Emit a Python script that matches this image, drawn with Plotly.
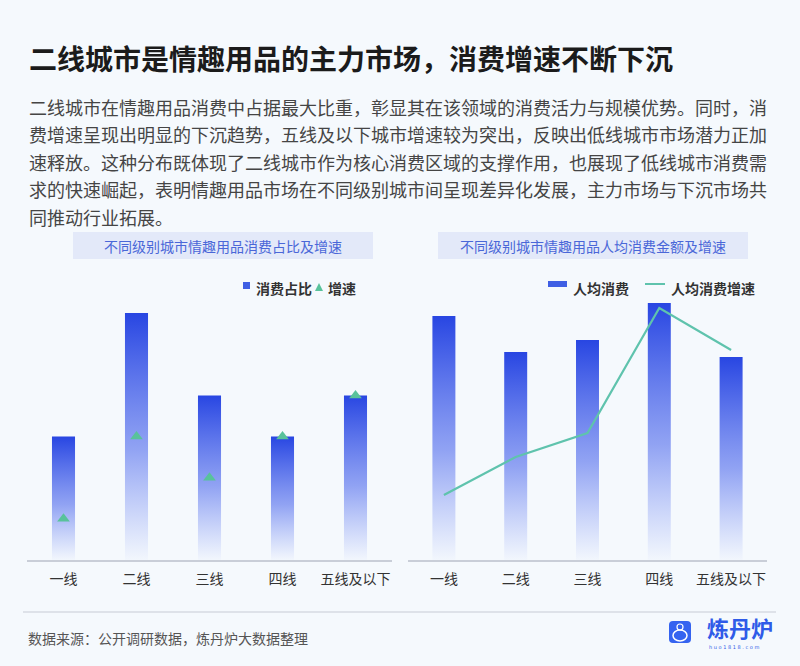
import plotly.graph_objects as go

W, H = 800, 666

# ---------------- data ----------------
cities = ["一线", "二线", "三线", "四线", "五线及以下"]
share = [15, 30, 20, 15, 20]                 # 消费占比 (%)
share_growth = [5, 15, 10, 15, 20]           # 增速 (%)
per_capita = [244, 208, 220, 257, 203]       # 人均消费 (estimated)
per_capita_growth = [6.5, 10.3, 12.7, 25.2, 21.0]  # 人均消费增速 (estimated)

title = "二线城市是情趣用品的主力市场，消费增速不断下沉"
para_lines = [
    "二线城市在情趣用品消费中占据最大比重，彰显其在该领域的消费活力与规模优势。同时，消",
    "费增速呈现出明显的下沉趋势，五线及以下城市增速较为突出，反映出低线城市市场潜力正加",
    "速释放。这种分布既体现了二线城市作为核心消费区域的支撑作用，也展现了低线城市消费需",
    "求的快速崛起，表明情趣用品市场在不同级别城市间呈现差异化发展，主力市场与下沉市场共",
    "同推动行业拓展。",
]
left_title = "不同级别城市情趣用品消费占比及增速"
right_title = "不同级别城市情趣用品人均消费金额及增速"
source = "数据来源：公开调研数据，炼丹炉大数据整理"

FONT = "Noto Sans CJK SC"


def px(x):
    return x / W


def py(y):
    return 1 - y / H


fig = go.Figure()

bar_cs = [[0, "rgba(90,118,242,0.02)"], [0.45, "rgba(72,100,236,0.58)"], [1, "rgba(40,70,226,1)"]]


def add_bars(xa, ya, values, half):
    for i, v in enumerate(values):
        fig.add_trace(go.Scatter(
            x=[i - half, i + half, i + half, i - half, i - half],
            y=[0, 0, v, v, 0],
            xaxis=xa, yaxis=ya, mode="lines", line=dict(width=0),
            fill="toself",
            fillgradient=dict(type="vertical", colorscale=bar_cs),
            showlegend=False, hoverinfo="skip"))


add_bars("x", "y", share, 0.158)
fig.add_trace(go.Scatter(
    x=list(range(len(cities))), y=share_growth, xaxis="x", yaxis="y",
    mode="markers", marker=dict(symbol="triangle-up", size=11, color="#58c29b"),
    showlegend=False, hoverinfo="skip"))

add_bars("x2", "y2", per_capita, 0.16)
fig.add_trace(go.Scatter(
    x=list(range(len(cities))), y=per_capita_growth, xaxis="x2", yaxis="y3",
    mode="lines", line=dict(color="#5fc3ad", width=2.2),
    showlegend=False, hoverinfo="skip"))

ydom = [(H - 560) / H, (H - 296) / H]
xcommon = dict(range=[-0.5, len(cities) - 0.5], tickvals=list(range(len(cities))), ticktext=cities,
               showgrid=False, zeroline=False, showline=True, linecolor="#c9ced8", linewidth=1.5,
               ticks="outside", ticklen=5, tickcolor="rgba(0,0,0,0)",
               tickfont=dict(family=FONT, size=14, color="#333333"), fixedrange=True)

fig.update_layout(
    width=W, height=H, margin=dict(l=0, r=0, t=0, b=0),
    paper_bgcolor="#f5f9fd", plot_bgcolor="rgba(0,0,0,0)",
    showlegend=False,
    xaxis=dict(domain=[px(27), px(392)], anchor="y", **xcommon),
    yaxis=dict(domain=ydom, range=[0, 32.08], visible=False, anchor="x"),
    xaxis2=dict(domain=[px(408), px(767)], anchor="y2", **xcommon),
    yaxis2=dict(domain=ydom, range=[0, 264], visible=False, anchor="x2"),
    yaxis3=dict(overlaying="y2", range=[0, 26.4], visible=False, anchor="x2"),
)

shapes = []
ann = []

# title
ann.append(dict(x=px(27), y=py(58), xref="paper", yref="paper", xanchor="left", yanchor="middle",
                text="<b>" + title + "</b>", showarrow=False,
                font=dict(family=FONT, size=28, color="#1b1b1b")))

# paragraph
for k, line in enumerate(para_lines):
    ann.append(dict(x=px(27), y=py(107 + 27.5 * k), xref="paper", yref="paper",
                    xanchor="left", yanchor="middle", text=line, showarrow=False,
                    font=dict(family=FONT, size=18, color="#454545")))

# chart title boxes
for (x0, x1, t) in [(73, 373, left_title), (438, 748, right_title)]:
    shapes.append(dict(type="rect", xref="paper", yref="paper", x0=px(x0), x1=px(x1),
                       y0=py(259), y1=py(232), fillcolor="#e3e9f9", line=dict(width=0), layer="below"))
    ann.append(dict(x=px((x0 + x1) / 2), y=py(245.5), xref="paper", yref="paper",
                    xanchor="center", yanchor="middle", text=t, showarrow=False,
                    font=dict(family=FONT, size=14, color="#4a67d8")))

# left legend
shapes.append(dict(type="rect", xref="paper", yref="paper", x0=px(243), x1=px(250),
                   y0=py(289), y1=py(282), fillcolor="#3f5fe4", line=dict(width=0)))
ann.append(dict(x=px(254), y=py(287.5), xref="paper", yref="paper", xanchor="left", yanchor="middle",
                text="<b>消费占比</b>", showarrow=False, font=dict(family=FONT, size=14, color="#333333")))
shapes.append(dict(type="path", xref="paper", yref="paper",
                   path=f"M {px(315)} {py(291)} L {px(323)} {py(291)} L {px(319)} {py(283)} Z",
                   fillcolor="#58c29b", line=dict(width=0)))
ann.append(dict(x=px(326), y=py(287.5), xref="paper", yref="paper", xanchor="left", yanchor="middle",
                text="<b>增速</b>", showarrow=False, font=dict(family=FONT, size=14, color="#333333")))

# right legend
shapes.append(dict(type="rect", xref="paper", yref="paper", x0=px(548), x1=px(567),
                   y0=py(287), y1=py(281), fillcolor="#3f5fe4", line=dict(width=0)))
ann.append(dict(x=px(571), y=py(287.5), xref="paper", yref="paper", xanchor="left", yanchor="middle",
                text="<b>人均消费</b>", showarrow=False, font=dict(family=FONT, size=14, color="#333333")))
shapes.append(dict(type="line", xref="paper", yref="paper", x0=px(645), x1=px(665),
                   y0=py(284), y1=py(284), line=dict(color="#5fc3ad", width=2)))
ann.append(dict(x=px(669), y=py(287.5), xref="paper", yref="paper", xanchor="left", yanchor="middle",
                text="<b>人均消费增速</b>", showarrow=False, font=dict(family=FONT, size=14, color="#333333")))

# bottom separator
shapes.append(dict(type="line", xref="paper", yref="paper", x0=px(23), x1=px(776),
                   y0=py(612), y1=py(612), line=dict(color="#d6dae2", width=1.5)))

# source
ann.append(dict(x=px(26), y=py(638), xref="paper", yref="paper", xanchor="left", yanchor="middle",
                text=source, showarrow=False, font=dict(family=FONT, size=14, color="#555555")))

# logo
lx0, lx1, ly0, ly1, r = 669, 691, 621, 643, 4
path = (f"M {px(lx0 + r)} {py(ly0)} L {px(lx1 - r)} {py(ly0)} Q {px(lx1)} {py(ly0)} {px(lx1)} {py(ly0 + r)} "
        f"L {px(lx1)} {py(ly1 - r)} Q {px(lx1)} {py(ly1)} {px(lx1 - r)} {py(ly1)} "
        f"L {px(lx0 + r)} {py(ly1)} Q {px(lx0)} {py(ly1)} {px(lx0)} {py(ly1 - r)} "
        f"L {px(lx0)} {py(ly0 + r)} Q {px(lx0)} {py(ly0)} {px(lx0 + r)} {py(ly0)} Z")
shapes.append(dict(type="path", xref="paper", yref="paper", path=path,
                   fillcolor="#3563f0", line=dict(width=0)))
shapes.append(dict(type="circle", xref="paper", yref="paper", x0=px(673), x1=px(687),
                   y0=py(641), y1=py(630), fillcolor="rgba(0,0,0,0)", line=dict(color="white", width=1.5)))
shapes.append(dict(type="circle", xref="paper", yref="paper", x0=px(677), x1=px(683),
                   y0=py(630), y1=py(624), fillcolor="rgba(0,0,0,0)", line=dict(color="white", width=1.2)))
ann.append(dict(x=px(705), y=py(627), xref="paper", yref="paper", xanchor="left", yanchor="middle",
                text="<b>炼丹炉</b>", showarrow=False, font=dict(family=FONT, size=22, color="#2f5be8")))
ann.append(dict(x=px(707), y=py(646.5), xref="paper", yref="paper", xanchor="left", yanchor="middle",
                text="h u o 1 8 1 8 . c o m", showarrow=False, font=dict(family="DejaVu Sans", size=5, color="#2f5be8")))

fig.update_layout(shapes=shapes, annotations=ann)

fig.write_html("out.html", config={"displayModeBar": False},
               post_script="document.body.style.margin='0px';document.body.style.padding='0px';")
